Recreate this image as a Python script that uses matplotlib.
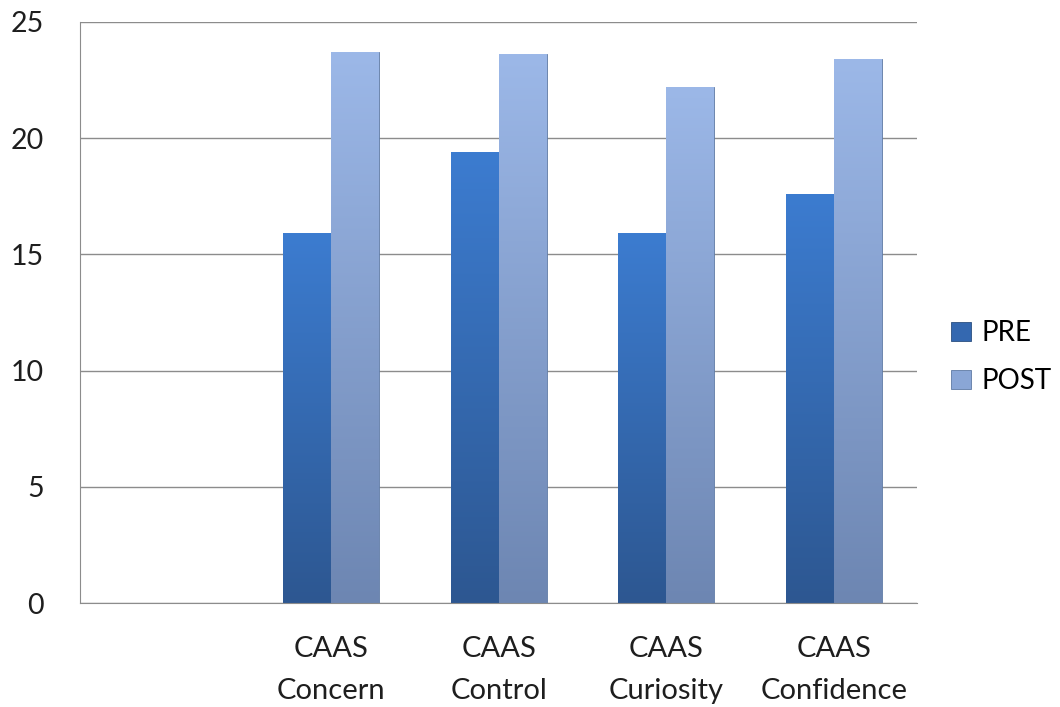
import matplotlib.pyplot as plt
import matplotlib.colors as mcolors
import numpy as np

plt.rcParams["font.family"] = ["Lato", "DejaVu Sans"]

# first slot on the axis is left empty in the original chart
categories = ["", "CAAS\nConcern", "CAAS\nControl", "CAAS\nCuriosity", "CAAS\nConfidence"]
pre = [np.nan, 15.9, 19.4, 15.9, 17.6]
post = [np.nan, 23.7, 23.6, 22.2, 23.4]

fig = plt.figure(figsize=(10.6, 7.07), dpi=100)
ax = fig.add_axes([0.0755, 0.147, 0.79, 0.822])

x = np.arange(len(categories))
w = 0.286

bars_pre = ax.bar(x - w / 2, pre, w, color="#3468b0", edgecolor="#2a4f80", linewidth=0.6, label="PRE", zorder=2)
bars_post = ax.bar(x + w / 2, post, w, color="#8aa6d6", edgecolor="#5f7aa4", linewidth=0.6, label="POST", zorder=2)


def shade(bars, top, bottom):
    # vertical gradient inside each bar, lighter at top
    cmap = mcolors.LinearSegmentedColormap.from_list("g", [bottom, top])
    grad = np.linspace(0, 1, 256).reshape(-1, 1)
    for b in bars:
        h = b.get_height()
        if np.isnan(h):
            continue
        x0 = b.get_x()
        im = ax.imshow(grad, cmap=cmap, origin="lower", aspect="auto",
                       extent=[x0, x0 + b.get_width(), 0, h], zorder=2.5)
        im.set_clip_path(b)


shade(bars_pre, "#3c7cd0", "#2d5791")
shade(bars_post, "#9cb8e8", "#6d86b2")

ax.set_xlim(-0.5, 4.5)
ax.set_ylim(0, 25)
ax.set_yticks([0, 5, 10, 15, 20, 25])
ax.set_xticks(x)
ax.set_xticklabels(categories, fontsize=21, color="#1e1e1e", linespacing=1.72)
ax.tick_params(axis="x", length=0, pad=24)
ax.tick_params(axis="y", length=0, pad=26, labelsize=20.5, labelcolor="#1e1e1e")

ax.grid(axis="y", color="#8c8c8c", linewidth=1.0, zorder=0)
for s in ["top", "right"]:
    ax.spines[s].set_visible(False)
ax.spines["left"].set_color("#8c8c8c")
ax.spines["bottom"].set_color("#8c8c8c")

ax.legend(loc="center left", bbox_to_anchor=(1.024, 0.423), frameon=False, fontsize=20, borderpad=0,
          handlelength=0.7, handleheight=0.7, handletextpad=0.4, labelspacing=0.8)

fig.savefig("out.png", dpi=100)
